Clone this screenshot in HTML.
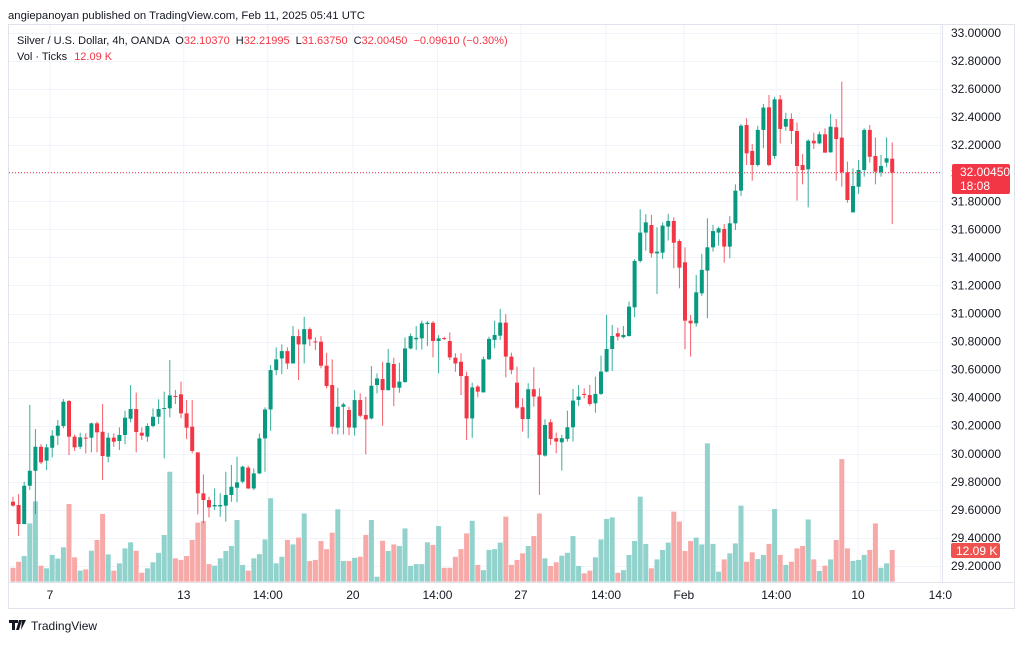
<!DOCTYPE html>
<html><head><meta charset="utf-8"><style>
body{margin:0;background:#fff;width:1024px;height:641px;overflow:hidden;font-family:"Liberation Sans",sans-serif}
svg text{font-family:"Liberation Sans",sans-serif}
</style></head><body>
<svg id="c" width="1024" height="641" xmlns="http://www.w3.org/2000/svg">
<text x="8" y="19" font-size="11.3" fill="#131722">angiepanoyan published on TradingView.com, Feb 11, 2025 05:41 UTC</text>
<rect x="8.5" y="24.5" width="1006" height="584" fill="none" stroke="#e0e3eb"/>
<line x1="942.5" y1="24" x2="942.5" y2="582" stroke="#e0e3eb"/>
<g id="grid"></g>
<g id="vol"></g>
<g id="cnd"></g>
<g id="ax"></g>
<text x="17" y="44" font-size="11" fill="#131722">Silver / U.S. Dollar, 4h, OANDA <tspan dx="3">O</tspan><tspan fill="#f23645">32.10370</tspan><tspan dx="6">H</tspan><tspan fill="#f23645">32.21995</tspan><tspan dx="6">L</tspan><tspan fill="#f23645">31.63750</tspan><tspan dx="6">C</tspan><tspan fill="#f23645">32.00450</tspan><tspan dx="6" fill="#f23645">−0.09610 (−0.30%)</tspan></text>
<text x="17" y="60" font-size="11" fill="#131722">Vol · Ticks <tspan dx="4" fill="#f23645">12.09 K</tspan></text>
<g><path d="M9 620h9v3h-3v7h-3v-7h-3z M19 620h3l-3 10h-3z M22 620h4l-5 10z" fill="#131722"/><text x="31" y="630" font-size="12" fill="#131722">TradingView</text></g>
</svg>
<script>
const opens=[29.658,29.635,29.499,29.772,29.879,30.050,29.951,30.043,30.129,30.198,30.376,30.122,30.050,30.115,30.115,30.217,30.157,29.979,30.115,30.091,30.134,30.250,30.319,30.150,30.122,30.198,30.264,30.321,30.324,30.412,30.424,30.288,30.193,30.010,29.718,29.670,29.625,29.625,29.630,29.706,29.758,29.801,
29.901,29.753,29.860,30.110,30.316,30.597,30.680,30.732,30.644,30.839,30.780,30.889,30.801,30.799,30.628,30.490,30.186,30.335,30.312,30.186,30.383,30.276,30.252,30.490,30.533,30.454,30.640,30.471,30.511,30.751,30.816,30.823,30.925,30.934,30.804,30.825,30.804,30.685,30.656,30.554,30.252,
30.479,30.438,30.674,30.812,30.842,30.935,30.693,30.507,30.332,30.248,30.460,30.408,29.987,30.225,30.111,30.082,30.106,30.189,30.384,30.427,30.419,30.360,30.427,30.586,30.747,30.859,30.831,30.840,31.044,31.375,31.577,31.631,31.429,31.434,31.620,31.660,31.517,31.365,30.949,30.930,31.144,
31.306,31.472,31.577,31.603,31.477,31.643,31.876,32.344,32.159,32.059,32.309,32.470,32.123,32.527,32.332,32.387,32.301,32.059,32.028,32.232,32.213,32.278,32.149,32.328,32.254,32.007,31.721,31.904,32.023,32.309,32.123,32.007,32.076,32.1037];
const highs=[29.694,29.713,29.801,30.348,30.176,30.069,30.069,30.169,30.241,30.390,30.383,30.138,30.150,30.146,30.222,30.229,30.355,30.150,30.146,30.188,30.307,30.490,30.436,30.188,30.217,30.324,30.388,30.443,30.668,30.455,30.514,30.383,30.383,30.010,29.853,29.694,29.753,29.718,29.872,29.920,29.979,29.915,
29.915,29.896,30.145,30.331,30.633,30.759,30.780,30.759,30.911,30.887,30.977,30.901,30.830,30.839,30.720,30.673,30.471,30.364,30.335,30.454,30.431,30.407,30.625,30.573,30.656,30.747,30.685,30.649,30.830,30.858,30.911,30.949,30.946,30.946,30.846,30.835,30.865,30.716,30.716,30.585,30.507,
30.491,30.693,30.835,30.949,31.033,30.995,30.721,30.621,30.396,30.503,30.617,30.467,30.246,30.246,30.151,30.134,30.308,30.462,30.491,30.467,30.491,30.550,30.700,30.990,30.918,30.899,30.911,31.085,31.387,31.743,31.708,31.703,31.615,31.650,31.710,31.686,31.529,31.472,30.990,31.275,31.425,
31.679,31.631,31.619,31.638,31.695,31.921,32.351,32.392,32.209,32.339,32.494,32.558,32.546,32.558,32.432,32.427,32.363,32.137,32.242,32.289,32.297,32.320,32.423,32.387,32.653,32.083,32.035,32.095,32.320,32.344,32.256,32.130,32.256,32.21995];
const lows=[29.623,29.414,29.499,29.742,29.570,29.927,29.884,29.974,30.062,30.181,29.991,30.020,30.034,30.003,30.010,30.010,29.813,29.939,30.050,30.027,30.069,30.224,30.010,30.098,30.086,30.188,30.212,29.967,30.260,30.355,30.253,30.105,30.003,29.568,29.504,29.547,29.599,29.551,29.516,29.658,29.654,29.789,
29.748,29.741,29.855,29.872,30.164,30.561,30.568,30.604,30.644,30.526,30.644,30.768,30.740,30.609,30.466,30.141,30.138,30.138,30.133,30.129,30.259,29.996,30.245,30.431,30.200,30.450,30.340,30.435,30.507,30.744,30.740,30.744,30.768,30.687,30.573,30.811,30.668,30.585,30.419,30.098,30.114,
30.403,30.436,30.669,30.752,30.812,30.545,30.567,30.320,30.158,30.110,30.336,29.706,29.980,30.063,30.003,29.880,30.087,30.087,30.341,30.396,30.343,30.293,30.419,30.581,30.591,30.807,30.823,30.835,30.973,31.363,31.448,31.399,31.139,31.389,31.520,31.323,31.180,30.745,30.693,30.907,31.125,
30.966,31.441,31.484,31.363,31.394,31.596,31.838,32.059,31.947,32.047,32.178,32.050,32.102,32.213,32.304,32.209,31.805,31.921,31.757,32.173,32.206,32.147,32.147,31.947,31.904,31.790,31.721,31.852,31.976,32.076,31.921,31.976,32.042,31.6375];
const closes=[29.630,29.499,29.772,29.879,30.050,29.939,30.046,30.129,30.200,30.371,30.122,30.046,30.117,30.108,30.217,30.153,29.984,30.115,30.086,30.134,30.257,30.319,30.155,30.129,30.198,30.264,30.319,30.326,30.416,30.407,30.288,30.186,30.020,29.718,29.670,29.618,29.635,29.635,29.706,29.765,29.796,29.908,
29.753,29.860,30.110,30.316,30.597,30.673,30.732,30.644,30.839,30.780,30.889,30.816,30.794,30.628,30.483,30.193,30.335,30.352,30.188,30.383,30.271,30.245,30.485,30.537,30.454,30.649,30.471,30.514,30.751,30.839,30.827,30.930,30.934,30.804,30.823,30.818,30.687,30.644,30.554,30.252,30.473,
30.443,30.674,30.819,30.847,30.935,30.693,30.598,30.329,30.248,30.460,30.408,29.992,30.205,30.106,30.087,30.111,30.189,30.379,30.408,30.419,30.355,30.427,30.586,30.747,30.840,30.835,30.847,31.049,31.375,31.577,31.650,31.429,31.441,31.627,31.660,31.505,31.327,30.949,30.930,31.151,31.311,
31.472,31.588,31.607,31.477,31.643,31.876,32.339,32.142,32.059,32.309,32.468,32.059,32.527,32.316,32.387,32.301,32.052,32.023,32.232,32.213,32.278,32.147,32.332,32.244,32.007,31.809,31.909,32.023,32.309,32.118,32.011,32.052,32.107,32.0045];
const volumes=[5.3,7.6,9.8,22.2,30.6,6.1,5.1,10.2,8.8,13.1,29.6,9.3,4.2,4.7,11.8,15.9,25.8,10.4,4.2,7.0,12.7,15.0,11.8,3.4,5.1,7.4,11.0,17.8,41.9,8.9,8.3,9.8,15.9,22.5,23.1,6.7,6.1,8.9,11.7,13.6,23.5,6.4,
4.2,8.9,10.5,16.1,31.8,7.0,9.5,15.9,14.2,16.8,26.0,7.9,8.3,15.5,12.4,18.7,27.6,7.9,7.9,9.1,9.5,17.8,23.5,1.9,15.6,11.7,14.2,13.6,20.3,6.0,6.7,6.7,15.0,14.0,21.2,5.3,5.3,9.5,12.4,18.4,23.2,
6.4,4.4,12.1,12.4,14.9,24.8,6.4,8.3,10.8,13.6,17.4,26.0,8.9,6.0,7.4,9.9,11.0,17.4,6.0,3.2,4.2,9.3,16.1,23.9,24.5,3.4,4.4,10.2,15.5,32.4,14.4,5.1,8.5,12.1,14.9,26.7,22.9,11.7,15.5,16.8,14.2,
52.7,14.4,3.8,8.5,10.8,14.6,29.0,7.6,11.2,8.6,10.2,14.4,27.7,10.2,6.4,7.6,12.7,13.6,23.7,8.5,4.1,6.1,8.5,15.9,46.7,12.7,7.9,8.3,10.2,12.1,22.2,5.3,7.0,12.09];
const priceTicks=[33.0,32.8,32.6,32.4,32.2,32.0,31.8,31.6,31.4,31.2,31.0,30.8,30.6,30.4,30.2,30.0,29.8,29.6,29.4,29.2];
const timeLabels=["7","13","14:00","20","14:00","27","14:00","Feb","14:00","10","14:0"];
const timeIdx=[6.6,30.5,45.5,60.7,75.8,90.7,105.9,119.8,136.3,150.9,165.6];

const NS="http://www.w3.org/2000/svg";
function yP(p){return 33+(33-p)*140.26;}
function xI(i){return 13+i*5.6;}
function vH(v){return v/0.381;}
function mk(t,a,par){const e=document.createElementNS(NS,t);for(const k in a)e.setAttribute(k,a[k]);par.appendChild(e);return e;}
const grid=document.getElementById('grid'),ax=document.getElementById('ax'),vol=document.getElementById('vol'),cnd=document.getElementById('cnd');
priceTicks.forEach(p=>{
  const y=Math.round(yP(p))+0.5;
  const g=mk('line',{x1:9,x2:942,y1:y,y2:y,stroke:'#f0f3fa'},grid);
  
  
  const t=mk('text',{x:951,y:yP(p)+4,'font-size':12,fill:'#131722'},ax);
  
  
  t.textContent=p.toFixed(5);
});
timeLabels.forEach((s,k)=>{
  const x=xI(timeIdx[k]);
  if(x<942){const g=mk('line',{x1:x,x2:x,y1:25,y2:582,stroke:'#f0f3fa'},grid);
  
  }
  const t=mk('text',{x:x,y:599,'font-size':12,fill:'#131722','text-anchor':'middle'},ax);
  
  
  t.textContent=s;
});
mk('line',{x1:9,x2:1014,y1:582.5,y2:582.5,stroke:'#e0e3eb'},grid);
const UP='#089981',DN='#f23645',UPV='#92d2cc',DNV='#f7a9a7';
for(let i=0;i<opens.length;i++){
  const up=closes[i]>=opens[i],x=xI(i);
  const h=vH(volumes[i]);
  const vb=mk('rect',{x:x-2.5,y:581.7-h,width:5,height:h,fill:up?UPV:DNV},vol);
  
  
  const w=mk('line',{x1:x,x2:x,y1:yP(highs[i]),y2:yP(lows[i]),stroke:up?UP:DN,'stroke-width':1,opacity:0.8},cnd);
  
  
  const t=yP(Math.max(opens[i],closes[i])),b=yP(Math.min(opens[i],closes[i]));
  const r=mk('rect',{x:x-2,y:t,width:4,height:Math.max(1,b-t),fill:up?UP:DN},cnd);
  
  
}
const last=closes[closes.length-1],ly=yP(last);
const pl=mk('line',{x1:9,x2:942,y1:ly,y2:ly,stroke:DN,'stroke-dasharray':'1 2','stroke-width':1},ax);


const bx=mk('rect',{x:952,y:164,width:58,height:30,rx:2,fill:DN},ax);


const t1=mk('text',{x:960,y:176,'font-size':12,fill:'#fff'},ax);t1.textContent=last.toFixed(5);


const t2=mk('text',{x:960,y:190,'font-size':12,fill:'#fff'},ax);t2.textContent='18:08';


const vb2=mk('rect',{x:951,y:543,width:49,height:15,rx:2,fill:'#ef5350'},ax);


const t3=mk('text',{x:956,y:555,'font-size':12,fill:'#fff'},ax);t3.textContent=volumes[volumes.length-1].toFixed(2)+' K';


</script>
</body></html>
